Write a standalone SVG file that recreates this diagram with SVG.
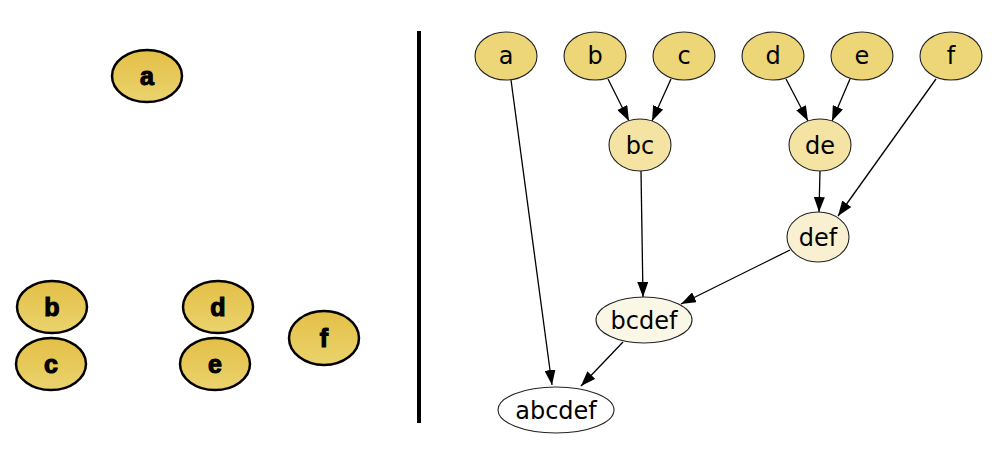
<svg xmlns="http://www.w3.org/2000/svg" width="1000" height="469" viewBox="0 0 1000 469">
<defs>
<linearGradient id="gold" x1="0" y1="0" x2="0" y2="1">
<stop offset="0" stop-color="#E3BF46"/>
<stop offset="1" stop-color="#EBD36E"/>
</linearGradient>
<marker id="arr" markerUnits="userSpaceOnUse" markerWidth="15" markerHeight="11" refX="15" refY="5.5" orient="auto">
<path d="M0,0 L15,5.5 L0,11 z" fill="#000"/>
</marker>
</defs>
<style>
.l ellipse{fill:url(#gold);stroke:#000;stroke-width:2.5}
.l text{font-family:"Liberation Sans",Arial,sans-serif;font-weight:bold;font-size:25px;fill:#000;stroke:#000;stroke-width:1.1;text-anchor:middle}
.r ellipse{stroke:#222;stroke-width:1.1}
.r text{font-family:"DejaVu Sans",sans-serif;font-size:24px;fill:#000;text-anchor:middle}
.t1 ellipse{fill:#EDD677}
.t2 ellipse{fill:#F4E3A2}
.t3 ellipse{fill:#F8F0D0}
.t4 ellipse{fill:#FBF7E7}
.t5 ellipse{fill:#FFFFFF}
#edges line{stroke:#000;stroke-width:1.3;marker-end:url(#arr)}
</style>
<rect width="1000" height="469" fill="#fff"/>
<g id="left" class="l">
<g id="la"><ellipse cx="147" cy="76" rx="35" ry="26"/><text x="147" y="85">a</text></g>
<g id="lb"><ellipse cx="52" cy="307" rx="35" ry="26"/><text x="52" y="316">b</text></g>
<g id="lc"><ellipse cx="51" cy="364" rx="35" ry="26"/><text x="51" y="373">c</text></g>
<g id="ld"><ellipse cx="218" cy="307" rx="35" ry="26"/><text x="218" y="316">d</text></g>
<g id="le"><ellipse cx="215" cy="364" rx="35" ry="26"/><text x="215" y="373">e</text></g>
<g id="lf"><ellipse cx="324" cy="338" rx="35" ry="27"/><text x="324" y="347">f</text></g>
</g>
<line id="divider" x1="419" y1="31" x2="419" y2="423" stroke="#000" stroke-width="4"/>
<g id="edges">
<line x1="511" y1="80" x2="552" y2="385"/>
<line x1="608" y1="79" x2="629" y2="121"/>
<line x1="671" y1="79" x2="652" y2="121"/>
<line x1="786" y1="79" x2="808" y2="121"/>
<line x1="850" y1="79" x2="832" y2="121"/>
<line x1="936" y1="79" x2="838" y2="216"/>
<line x1="820" y1="171" x2="819" y2="212"/>
<line x1="641" y1="171" x2="643" y2="297"/>
<line x1="790" y1="250" x2="681" y2="304"/>
<line x1="623" y1="342" x2="581" y2="386"/>
</g>
<g class="r">
<g id="a" class="t1"><ellipse cx="506" cy="56" rx="31" ry="24"/><text x="506" y="64">a</text></g>
<g id="b" class="t1"><ellipse cx="595" cy="56" rx="31" ry="24"/><text x="595" y="64">b</text></g>
<g id="c" class="t1"><ellipse cx="684" cy="56" rx="31" ry="24"/><text x="684" y="64">c</text></g>
<g id="d" class="t1"><ellipse cx="773" cy="56" rx="31" ry="24"/><text x="773" y="64">d</text></g>
<g id="e" class="t1"><ellipse cx="862" cy="56" rx="31" ry="24"/><text x="862" y="64">e</text></g>
<g id="f" class="t1"><ellipse cx="951" cy="56" rx="31" ry="24"/><text x="951" y="64">f</text></g>
<g id="bc" class="t2"><ellipse cx="640" cy="145" rx="31" ry="26"/><text x="640" y="154">bc</text></g>
<g id="de" class="t2"><ellipse cx="820" cy="145" rx="31" ry="26"/><text x="820" y="154">de</text></g>
<g id="def" class="t3"><ellipse cx="818" cy="237" rx="31" ry="25"/><text x="818" y="246">def</text></g>
<g id="bcdef" class="t4"><ellipse cx="644" cy="320" rx="48" ry="23"/><text x="644" y="329">bcdef</text></g>
<g id="abcdef" class="t5"><ellipse cx="556" cy="410" rx="58" ry="23"/><text x="556" y="419">abcdef</text></g>
</g>
</svg>
